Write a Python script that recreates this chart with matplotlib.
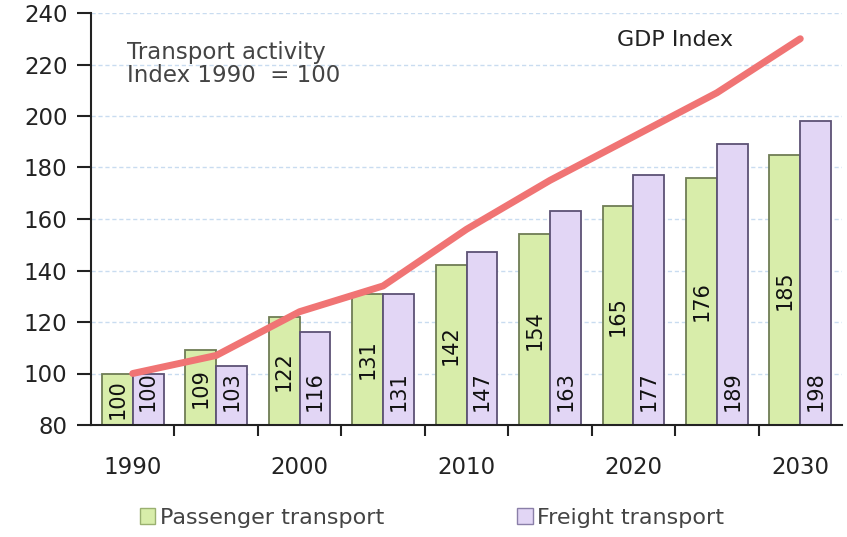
import matplotlib
matplotlib.use("Agg")
import matplotlib.pyplot as plt
from matplotlib.patches import Patch
import numpy as np

years = ["1990", "1995", "2000", "2005", "2010", "2015", "2020", "2025", "2030"]
passenger = [100, 109, 122, 131, 142, 154, 165, 176, 185]
freight = [100, 103, 116, 131, 147, 163, 177, 189, 198]
gdp = [100, 107, 124, 134, 156, 175, 192, 209, 230]
yticks = [80, 100, 120, 140, 160, 180, 200, 220, 240]
xlabels_shown = ["1990", "2000", "2010", "2020", "2030"]

plt.rcParams['font.family'] = ['DejaVu Sans']

fig = plt.figure(figsize=(8.47, 5.37), dpi=100)
ax = fig.add_axes([91/847, 1-425/537, (842-91)/847, (425-13)/537])

x = np.arange(len(years))
w = 0.37
green_fc, green_ec = "#d8edaa", "#6f7d55"
purple_fc, purple_ec = "#e2d6f5", "#5d5275"

ax.set_ylim(80, 240)
ax.set_xlim(-0.5, len(years) - 0.5)

for y in yticks:
    ax.axhline(y, color="#c9dcf0", lw=1.0, ls=(0, (3, 2)), zorder=0)

ax.bar(x - w/2, [p - 80 for p in passenger], w, bottom=80, color=green_fc,
       edgecolor=green_ec, linewidth=1.3, zorder=2)
ax.bar(x + w/2, [f - 80 for f in freight], w, bottom=80, color=purple_fc,
       edgecolor=purple_ec, linewidth=1.3, zorder=2)

lab_font = dict(family=['Liberation Sans Narrow', 'DejaVu Sans Condensed', 'DejaVu Sans'],
                fontsize=15, color="#111111", rotation=90, zorder=4)
for xi, p in zip(x, passenger):
    ax.text(xi - w/2, (80 + p) / 2, str(p), ha="center", va="center", **lab_font)
for xi, f in zip(x, freight):
    ax.text(xi + w/2, 85.5, str(f), ha="center", va="bottom", **lab_font)

ax.plot(x, gdp, color="#f07474", lw=5, solid_capstyle="round", zorder=3)

ax.text(-0.07, 220.2, "Transport activity\nIndex 1990  = 100", fontsize=16.5, color="#444444",
        ha="left", va="center", linespacing=1.05)
ax.text(6.5, 229.5, "GDP Index", fontsize=16, color="#222222", ha="center", va="center")

for s in ["top", "right"]:
    ax.spines[s].set_visible(False)
for s in ["left", "bottom"]:
    ax.spines[s].set_linewidth(1.5)
    ax.spines[s].set_color("#222222")

ax.set_yticks(yticks)
ax.set_yticklabels([str(v) for v in yticks])
ax.tick_params(axis="y", length=10, width=1.5, direction="out", labelsize=16.5,
               labelcolor="#222222", pad=7, color="#222222")

ax.set_xticks([0, 2, 4, 6, 8])
ax.set_xticklabels(xlabels_shown)
ax.tick_params(axis="x", which="major", length=0, labelsize=16.5, labelcolor="#222222", pad=22)
ax.set_xticks(np.arange(0.5, len(years) - 1, 1.0), minor=True)
ax.tick_params(axis="x", which="minor", length=8, width=1.5, direction="out", color="#222222")

handles = [Patch(facecolor=green_fc, edgecolor="#9ab070", label="Passenger transport"),
           Patch(facecolor=purple_fc, edgecolor="#8a7fa8", label="Freight transport")]
fig.legend(handles=handles, loc="lower center", bbox_to_anchor=(0.51, -0.02), ncol=2,
           frameon=False, fontsize=16, handlelength=0.7, handleheight=0.7,
           handletextpad=0.2, columnspacing=6.0, labelcolor="#444444")

fig.savefig("out.png", dpi=100)
